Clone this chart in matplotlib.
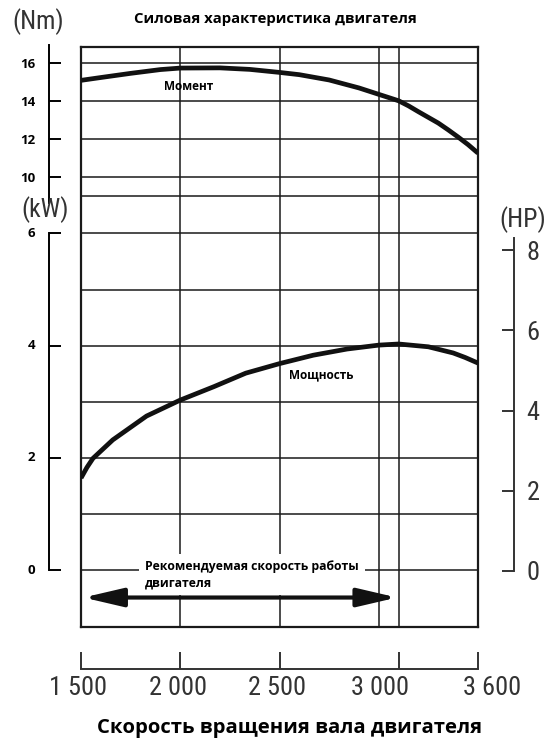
import matplotlib
matplotlib.use("Agg")
import matplotlib.pyplot as plt
from matplotlib import font_manager

# --- data ---
rpm_torque = [1500, 1600, 1750, 1900, 2000, 2200, 2350, 2500, 2600, 2750,
              2900, 3000, 3100, 3150, 3200, 3300, 3350, 3400, 3450, 3500]
torque_nm = [15.1, 15.25, 15.47, 15.67, 15.75, 15.76, 15.68, 15.52, 15.4, 15.12,
             14.7, 14.36, 14.02, 13.75, 13.44, 12.84, 12.48, 12.1, 11.7, 11.25]

rpm_power = [1500, 1530, 1560, 1660, 1830, 2000, 2170, 2330, 2500, 2670, 2840,
             3000, 3100, 3250, 3375, 3435, 3500]
power_kw = [1.64, 1.83, 1.99, 2.32, 2.745, 3.03, 3.27, 3.51, 3.68, 3.83, 3.94,
            4.01, 4.03, 3.98, 3.87, 3.79, 3.69]

nm_ticks = [10, 12, 14, 16]
nm_grid = [9, 10, 12, 14, 16]
kw_ticks = [0, 2, 4, 6]
kw_grid = [0, 1, 2, 3, 4, 5, 6]
hp_ticks = [0, 2, 4, 6, 8]
rpm_grid = [2000, 2500, 3000, 3100]
rpm_tickmarks = [1500, 2000, 2500, 3100, 3500]
rpm_labels_at = [1485, 1990, 2485, 3005, 3570]
rpm_labels = ["1 500", "2 000", "2 500", "3 000", "3 600"]
recommended = (1512, 3092)

W, H = 557, 749
BOLD = "Open Sans"
DARK = "#1a1a1a"

installed = {f.name for f in font_manager.fontManager.ttflist}
NARROW = "Liberation Sans"
narrow_size = 16.5
for name in ["Liberation Sans Narrow", "DejaVu Sans Condensed", "Roboto Condensed"]:
    if name in installed:
        NARROW = name
        narrow_size = 19
        break


def rect(x0, y0, x1, y1):
    return [x0 / W, 1 - y1 / H, (x1 - x0) / W, (y1 - y0) / H]


fig = plt.figure(figsize=(W / 100, H / 100), dpi=100)
fig.patch.set_facecolor("white")

box = rect(81, 46.7, 478, 626.7)

# main frame with vertical grid
ax = fig.add_axes(box)
ax.set_xlim(1500, 3500)
ax.set_ylim(0, 1)
ax.set_xticks([])
ax.set_yticks([])
for s in ax.spines.values():
    s.set_linewidth(1.6)
    s.set_color(DARK)
for x in rpm_grid:
    ax.axvline(x, color=DARK, lw=1.1)


def side_axes(ylim):
    a = fig.add_axes(box, sharex=ax)
    a.patch.set_visible(False)
    a.set_ylim(*ylim)
    for s in a.spines.values():
        s.set_visible(False)
    a.tick_params(bottom=False, labelbottom=False, left=False,
                  labelleft=False, right=False, labelright=False)
    return a


# torque axis (Nm)
ax_nm = side_axes((-13.8, 16.88))
sp = ax_nm.spines["left"]
sp.set_visible(True)
sp.set_position(("outward", 23))
sp.set_bounds(8.6, 16.97)
sp.set_linewidth(1.4)
ax_nm.set_yticks(nm_ticks)
ax_nm.tick_params(axis="y", left=True, labelleft=True, direction="in",
                  length=8.6, width=1.4, pad=10)
for t in ax_nm.get_yticklabels():
    t.set_fontfamily(BOLD)
    t.set_fontweight("bold")
    t.set_fontsize(9.5)
for v in nm_grid:
    ax_nm.axhline(v, color=DARK, lw=1.1)
ax_nm.plot(rpm_torque, torque_nm, color="#111111", lw=3.4,
           solid_capstyle="butt", solid_joinstyle="round")
ax_nm.text(2040, 14.75, "Момент", ha="center", va="center",
           fontfamily=BOLD, fontweight="bold", fontsize=8.5)

# power axis (kW)
ax_kw = side_axes((-1.01, 9.33))
sp = ax_kw.spines["left"]
sp.set_visible(True)
sp.set_position(("outward", 23))
sp.set_bounds(0, 6)
sp.set_linewidth(1.4)
ax_kw.set_yticks(kw_ticks)
ax_kw.tick_params(axis="y", left=True, labelleft=True, direction="in",
                  length=8.6, width=1.4, pad=10)
for t in ax_kw.get_yticklabels():
    t.set_fontfamily(BOLD)
    t.set_fontweight("bold")
    t.set_fontsize(9.5)
    t.set_verticalalignment("center")
for v in kw_grid:
    ax_kw.axhline(v, color=DARK, lw=1.1)
ax_kw.plot(rpm_power, power_kw, color="#111111", lw=3.4,
           solid_capstyle="butt", solid_joinstyle="round")
ax_kw.text(2709, 3.48, "Мощность", ha="center", va="center",
           fontfamily=BOLD, fontweight="bold", fontsize=8.5)

ax_kw.text(1822, -0.08, "Рекомендуемая скорость работы\nдвигателя",
           ha="left", va="center", fontfamily=BOLD, fontweight="bold",
           fontsize=8.8, linespacing=1.35, zorder=5,
           bbox=dict(boxstyle="square,pad=0.5", fc="white", ec="none"))
ax_kw.annotate("", xy=(recommended[0], -0.49), xytext=(recommended[1], -0.49),
               arrowprops=dict(arrowstyle="<|-|>,head_length=1.2,head_width=0.28",
                               mutation_scale=20, lw=3, color="#111111",
                               shrinkA=0, shrinkB=0), zorder=6)

# HP axis (right)
ax_hp = side_axes((-1.39, 13.08))
sp = ax_hp.spines["right"]
sp.set_visible(True)
sp.set_position(("outward", 26))
sp.set_bounds(0, 8.3)
sp.set_linewidth(1.4)
sp.set_color("#333333")
ax_hp.set_yticks(hp_ticks)
ax_hp.tick_params(axis="y", right=True, labelright=True, direction="in",
                  length=8.6, width=1.4, pad=9, colors="#333333")
for t in ax_hp.get_yticklabels():
    t.set_fontfamily(NARROW)
    t.set_fontsize(narrow_size)

# rpm axis below the frame
axb = fig.add_axes(rect(81, 600, 478, 669))
axb.set_xlim(1500, 3500)
axb.patch.set_visible(False)
for k in ["left", "right", "top"]:
    axb.spines[k].set_visible(False)
axb.spines["bottom"].set_linewidth(1.4)
axb.spines["bottom"].set_color("#333333")
axb.set_yticks([])
axb.set_xticks(rpm_tickmarks)
axb.set_xticklabels([])
axb.tick_params(axis="x", direction="in", length=12, width=1.4, colors="#333333")
for x, lab in zip(rpm_labels_at, rpm_labels):
    axb.annotate(lab, xy=(x, 0), xycoords=("data", "axes fraction"),
                 xytext=(0, -5), textcoords="offset points",
                 ha="center", va="top", fontfamily=NARROW, fontsize=narrow_size,
                 color="#333333", annotation_clip=False)

# unit labels and titles
for x, y, lab in [(38, 22, "(Nm)"), (45, 210, "(kW)"), (523, 220, "(HP)")]:
    fig.text(x / W, 1 - y / H, lab, ha="center", va="center",
             fontfamily=NARROW, fontsize=narrow_size - 0.5, color="#333333")
fig.text(275 / W, 1 - 19 / H, "Силовая характеристика двигателя",
         ha="center", va="center", fontfamily=BOLD, fontweight="bold",
         fontsize=10.7)
fig.text(290 / W, 1 - 728 / H, "Скорость вращения вала двигателя",
         ha="center", va="center", fontfamily=BOLD, fontweight="bold",
         fontsize=14.6)

fig.savefig("out.png", dpi=100, facecolor="white")
